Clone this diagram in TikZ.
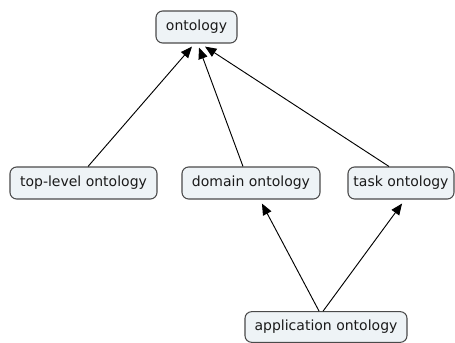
\documentclass[tikz,border=0pt]{standalone}
\usepackage{fontspec}
\setmainfont{DejaVu Sans}
\usetikzlibrary{arrows.meta}
\definecolor{boxfill}{HTML}{EEF3F6}
\definecolor{boxline}{HTML}{4A4A4A}
\definecolor{txt}{HTML}{1A1A1A}
\begin{document}
\begin{tikzpicture}[x=0.75pt,y=-0.75pt,
  concept/.style={draw=boxline,fill=boxfill,line width=0.8pt,rounded corners=5pt,
    minimum height=24pt,inner sep=0pt,text=txt,font=\fontsize{10.5}{12}\selectfont},
  link/.style={draw=black,line width=0.7pt,-{Triangle[length=8.5pt,width=7pt]}}]
\useasboundingbox (0,0) rectangle (455,343);
% concepts
\node[concept,minimum width=60.75pt] (ont)  at (196.5,27)  {ontology};
\node[concept,minimum width=110.25pt] (top) at (83.5,183)  {top-level ontology};
\node[concept,minimum width=103.5pt] (dom)  at (251,183)   {domain ontology};
\node[concept,minimum width=79.5pt] (task)  at (401,183)   {task ontology};
\node[concept,minimum width=121.5pt,minimum height=23pt] (app) at (326,327) {application ontology};
% links
\draw[link] ([xshift=3.4pt]top.north)  -- ([xshift=-3.4pt,yshift=-2.3pt]ont.south);
\draw[link] ([xshift=-6pt]dom.north)   -- ([xshift=1.9pt,yshift=-3pt]ont.south);
\draw[link] ([xshift=-9pt]task.north)  -- ([xshift=6.4pt,yshift=-2.3pt]ont.south);
\draw[link] ([xshift=-5.2pt]app.north) -- ([xshift=8.2pt,yshift=-3pt]dom.south);
\draw[link] ([xshift=-2.2pt]app.north) -- ([xshift=0.8pt,yshift=-3pt]task.south);
\end{tikzpicture}
\end{document}
